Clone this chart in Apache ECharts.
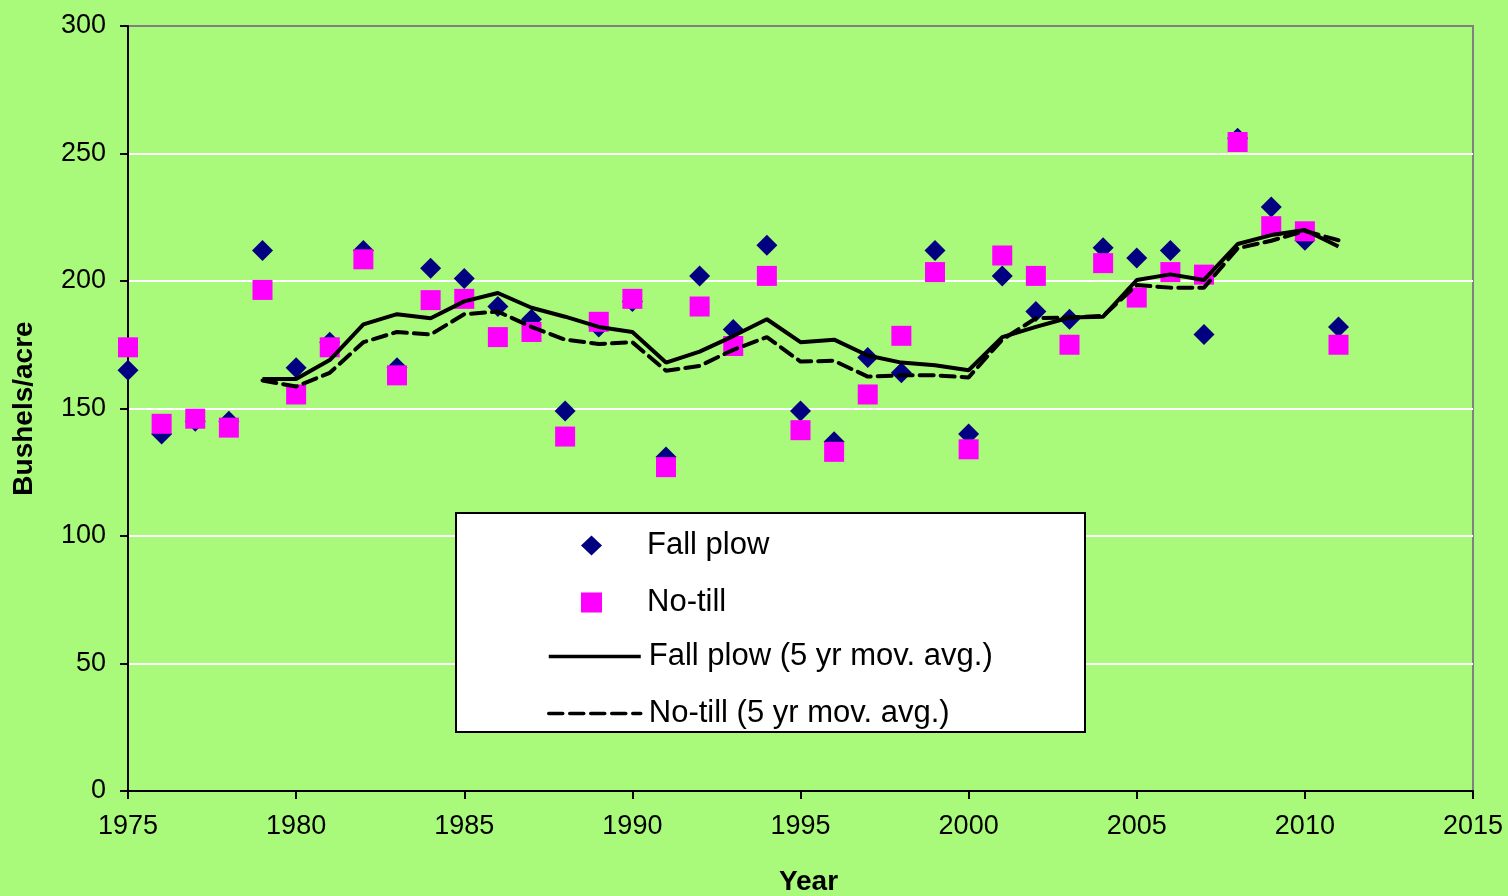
<!DOCTYPE html>
<html>
<head>
<meta charset="utf-8">
<title>Bushels/acre by year</title>
<script src="https://cdn.jsdelivr.net/npm/echarts@6/dist/echarts.min.js"></script>
<style>
  html, body { margin: 0; padding: 0; background: #A9FA7B; }
  #chart { width: 1508px; height: 896px; }
</style>
</head>
<body>
<div id="chart"></div>
<script>
// Yearly yields, bushels per acre
const years = [1975, 1976, 1977, 1978, 1979, 1980, 1981, 1982, 1983, 1984,
               1985, 1986, 1987, 1988, 1989, 1990, 1991, 1992, 1993, 1994,
               1995, 1996, 1997, 1998, 1999, 2000, 2001, 2002, 2003, 2004,
               2005, 2006, 2007, 2008, 2009, 2010, 2011];

const fallPlow = [165, 140, 145, 145, 212, 166, 176, 212, 166, 205,
                  201, 190, 185, 149, 182, 192, 131, 202, 181, 214,
                  149, 137, 170, 164, 212, 140, 202, 188, 185, 213,
                  209, 212, 179, 256, 229, 216, 182];

const noTill = [174, 144, 146, 142.5, 196.5, 155.5, 174, 208.5, 163, 192.5,
                193, 178, 180, 139, 184, 193, 127, 190, 174.5, 202,
                141.5, 133, 155.5, 178.5, 203.5, 134, 210, 202, 175, 207,
                193.5, 203.5, 202.5, 254.5, 221.5, 219.5, 175];

// 5-year moving averages, 1979 onward
const avgYears = [1979, 1980, 1981, 1982, 1983, 1984, 1985, 1986, 1987, 1988,
                  1989, 1990, 1991, 1992, 1993, 1994, 1995, 1996, 1997, 1998,
                  1999, 2000, 2001, 2002, 2003, 2004, 2005, 2006, 2007, 2008,
                  2009, 2010, 2011];

const fallPlowAvg = [161.6, 161.6, 169, 183, 187, 185.4, 192, 195.3, 189.5, 186,
                     182, 180, 168, 172.3, 178.4, 185, 176, 177, 170.8, 168,
                     167, 165, 178, 182, 185.7, 186, 200.4, 202.6, 200.4, 214.5,
                     218, 220, 213.5];

const noTillAvg = [161, 158.6, 164, 176, 180, 179, 187, 188, 182, 177,
                   175.3, 176, 164.8, 166.7, 173, 178, 168.4, 168.7, 162.5, 163,
                   163, 162.2, 177, 185.4, 185.7, 186.3, 198.4, 197.4, 197.4, 212.8,
                   215.8, 219.6, 216];

const seriesNames = ['Fall plow', 'No-till', 'Fall plow (5 yr mov. avg.)', 'No-till (5 yr mov. avg.)'];

const pair = (xs, ys) => xs.map((x, i) => [x, ys[i]]);

const FONT = '"Liberation Sans", Arial, sans-serif';
const legendText = { fontFamily: FONT, fontSize: 31, color: '#000', lineHeight: 30 };

const chart = echarts.init(document.getElementById('chart'), null, { renderer: 'canvas' });

chart.setOption({
  animation: false,
  backgroundColor: '#A9FA7B',
  textStyle: { fontFamily: FONT, color: '#000' },
  grid: {
    left: 128, right: 35, top: 26, bottom: 105,
    outerBoundsMode: 'none',
    containLabel: false,
    show: true,
    backgroundColor: 'transparent',
    borderColor: '#808080',
    borderWidth: 2
  },
  // white legend panel
  graphic: [{
    type: 'rect',
    z: 3,
    shape: { x: 456, y: 513, width: 629, height: 219 },
    style: { fill: '#FFFFFF', stroke: '#000000', lineWidth: 2 }
  }],
  legend: [
    {
      // marker entries
      data: seriesNames.slice(0, 2),
      orient: 'vertical',
      left: 581,
      top: 530,
      padding: 0,
      itemWidth: 21,
      itemHeight: 20,
      itemGap: 26,
      z: 5,
      itemStyle: { opacity: 1 },
      textStyle: Object.assign({ padding: [0, 0, 0, 40] }, legendText)
    },
    {
      // moving-average entries
      data: seriesNames.slice(2),
      orient: 'vertical',
      left: 547,
      top: 641,
      padding: 0,
      itemWidth: 92,
      itemHeight: 17,
      itemGap: 26,
      z: 5,
      itemStyle: { opacity: 0 },
      lineStyle: { width: 3.5 },
      textStyle: Object.assign({ padding: [0, 0, 0, 3] }, legendText)
    }
  ],
  xAxis: {
    type: 'value',
    min: 1975,
    max: 2015,
    interval: 5,
    name: 'Year',
    nameLocation: 'middle',
    nameGap: 77,
    nameTextStyle: { fontFamily: FONT, fontSize: 28, fontWeight: 'bold', color: '#000', padding: [0, 0, 0, 16] },
    axisLine: { onZero: false, lineStyle: { color: '#000', width: 2 } },
    axisTick: { show: true, length: 8, lineStyle: { color: '#000', width: 2 } },
    axisLabel: { fontFamily: FONT, fontSize: 27, color: '#000', margin: 22, formatter: v => String(v) },
    splitLine: { show: false }
  },
  yAxis: {
    type: 'value',
    min: 0,
    max: 300,
    interval: 50,
    name: 'Bushels/acre',
    nameLocation: 'middle',
    nameGap: 90,
    nameTextStyle: { fontFamily: FONT, fontSize: 28, fontWeight: 'bold', color: '#000' },
    axisLine: { show: true, lineStyle: { color: '#000', width: 2 } },
    axisTick: { show: true, length: 8, lineStyle: { color: '#000', width: 2 } },
    axisLabel: { fontFamily: FONT, fontSize: 27, color: '#000', margin: 22 },
    splitLine: {
      show: true,
      lineStyle: {
        color: ['transparent', '#FFFFFF', '#FFFFFF', '#FFFFFF', '#FFFFFF', '#FFFFFF', '#808080'],
        width: 2
      }
    }
  },
  series: [
    {
      name: seriesNames[0],
      type: 'scatter',
      symbol: 'diamond',
      symbolSize: 21,
      itemStyle: { color: '#000080', opacity: 1 },
      data: pair(years, fallPlow)
    },
    {
      name: seriesNames[1],
      type: 'scatter',
      symbol: 'rect',
      symbolSize: 20,
      itemStyle: { color: '#FF00FF', opacity: 1 },
      data: pair(years, noTill)
    },
    {
      name: seriesNames[2],
      type: 'line',
      showSymbol: false,
      symbol: 'none',
      lineStyle: { color: '#000', width: 4, type: 'solid' },
      itemStyle: { color: '#000' },
      data: pair(avgYears, fallPlowAvg),
      z: 3
    },
    {
      name: seriesNames[3],
      type: 'line',
      showSymbol: false,
      symbol: 'none',
      lineStyle: { color: '#000', width: 4, type: [14, 7], cap: 'round' },
      itemStyle: { color: '#000' },
      data: pair(avgYears, noTillAvg),
      z: 3
    }
  ]
});
</script>
</body>
</html>
